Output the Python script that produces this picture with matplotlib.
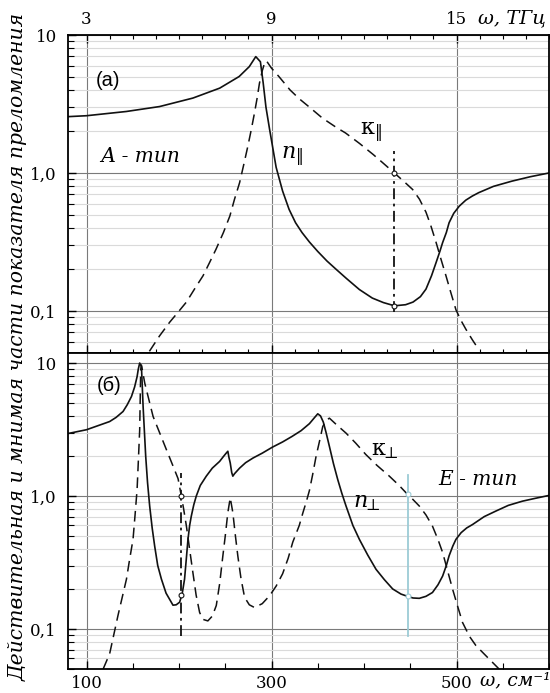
import numpy as np
import matplotlib.pyplot as plt
from matplotlib.ticker import FixedLocator, FixedFormatter, MultipleLocator, LogLocator, NullFormatter

plt.rcParams['font.family'] = ['DejaVu Serif']
plt.rcParams['mathtext.fontset'] = 'dejavuserif'

# ---- data (wavenumber in cm^-1) ----
# panel (а): A-type
wn_n_par = [80, 100, 143, 179, 215, 244, 265, 276, 283, 288, 291, 294, 298, 305, 312, 319,
            326, 333, 341, 350, 360, 370, 381, 395, 409, 421, 433, 445, 453, 461, 467, 473,
            478, 482, 485, 489, 492, 497, 503, 510, 517, 524, 540, 560, 580, 600]
n_par = [2.56, 2.60, 2.79, 3.03, 3.49, 4.12, 5.0, 5.9, 6.97, 6.4, 4.5, 3.0, 2.06, 1.1, 0.74, 0.545,
         0.436, 0.37, 0.316, 0.27, 0.23, 0.20, 0.172, 0.143, 0.124, 0.115, 0.109, 0.111, 0.116, 0.127, 0.144, 0.18,
         0.225, 0.27, 0.313, 0.37, 0.436, 0.51, 0.575, 0.635, 0.68, 0.72, 0.80, 0.873, 0.94, 1.0]

wn_k_par = [168, 179, 190, 199, 208, 217, 226, 233, 240, 248, 255, 260, 265.5, 270, 274.4, 278,
            281.6, 284.5, 287, 290, 292, 294.5, 300, 308, 320, 330, 341, 355, 370, 380, 395,
            410, 420, 432.8, 443, 452.5, 460, 467, 472, 477.8, 483, 488.6, 494, 499.4, 505,
            510, 517, 524.5]
k_par = [0.051, 0.066, 0.083, 0.098, 0.116, 0.145, 0.18, 0.224, 0.28, 0.37, 0.488, 0.645, 0.85, 1.15, 1.56, 2.04,
         2.72, 3.5, 4.48, 5.5, 6.1, 6.5, 5.75, 5.0, 4.0, 3.45, 3.0, 2.5, 2.14, 1.95, 1.64,
         1.36, 1.19, 1.0, 0.87, 0.76, 0.645, 0.52, 0.42, 0.316, 0.24, 0.18, 0.135, 0.102, 0.085,
         0.074, 0.062, 0.052]

# panel (б): E-type
wn_n_perp = [80, 100, 125, 132, 139.5, 144, 148.6, 152, 154.7, 156, 157.5, 159.4, 161.2, 164, 166,
             168.3, 171, 173.7, 177, 181, 186, 193.5, 197, 200.7, 203.5, 206, 207.8, 209.7, 211.5,
             213.3, 216, 218.7, 223, 229.5, 236, 243.9, 248, 251, 252.8, 254, 255.4, 257, 258.2,
             260, 265.5, 272, 280, 290, 301, 312, 322, 332, 341, 346, 350, 353, 356, 359, 362.6,
             367, 371.6, 376, 380.6, 388, 395, 404, 413, 422, 431, 440, 447, 453, 459.8, 467, 474,
             480, 485, 489, 492, 496, 499.4, 505, 511, 517.3, 530, 542.5, 556, 571.2, 585, 600]
n_perp = [2.95, 3.15, 3.63, 3.9, 4.32, 4.85, 5.6, 6.6, 7.9, 9.0, 10.0, 9.4, 4.7, 1.99, 1.26,
          0.84, 0.575, 0.42, 0.30, 0.237, 0.186, 0.151, 0.152, 0.159, 0.185, 0.237, 0.33, 0.472, 0.6,
          0.706, 0.86, 1.0, 1.2, 1.41, 1.62, 1.82, 1.98, 2.1, 2.17, 1.95, 1.77, 1.5, 1.41,
          1.47, 1.62, 1.78, 1.93, 2.1, 2.33, 2.55, 2.8, 3.1, 3.5, 3.85, 4.15, 4.0, 3.6, 3.0, 2.36,
          1.75, 1.33, 1.05, 0.84, 0.6, 0.472, 0.36, 0.281, 0.235, 0.20, 0.183, 0.176, 0.171, 0.17, 0.176, 0.188,
          0.215, 0.25, 0.30, 0.355, 0.42, 0.472, 0.53, 0.575, 0.61, 0.70, 0.77, 0.85, 0.914, 0.96, 1.01]

wn_k_perp = [118, 125, 134, 143.2, 146.5, 150.3, 152.5, 154.7, 156, 157.5, 158.6, 159.4, 163, 172,
             186.4, 194, 199, 202.5, 205, 208, 211, 215, 218.5, 222.3, 226, 231.2, 236, 240.3, 244,
             247.4, 250, 252.8, 255.4, 258.2, 261, 263.6, 267, 270.9, 276, 281.6, 290, 298, 305,
             312, 318, 323, 330, 334, 337.5, 341, 344.5, 348.2, 352, 355.4, 359, 362.6, 370, 380.6,
             391, 402, 414, 427.4, 438, 447, 453, 459.8, 467, 474, 480, 485, 490, 495.7, 501,
             506.5, 514, 521, 531.7, 546]
k_perp = [0.05, 0.065, 0.126, 0.237, 0.33, 0.472, 0.72, 1.12, 1.8, 3.15, 8.9, 9.66, 7.05, 3.96,
          2.23, 1.65, 1.35, 1.0, 0.8, 0.594, 0.42, 0.266, 0.18, 0.133, 0.118, 0.115, 0.125, 0.15, 0.22,
          0.354, 0.5, 0.75, 0.97, 0.75, 0.5, 0.354, 0.24, 0.173, 0.152, 0.145, 0.155, 0.178, 0.21,
          0.26, 0.34, 0.45, 0.6, 0.75, 0.9, 1.1, 1.45, 1.99, 2.6, 3.33, 3.7, 3.85, 3.45, 2.97,
          2.5, 2.05, 1.7, 1.41, 1.2, 1.03, 0.94, 0.84, 0.72, 0.594, 0.47, 0.376, 0.28, 0.20, 0.15,
          0.112, 0.088, 0.075, 0.063, 0.05]

# marker lines: (wavenumber, y top, y bottom, n value, kappa value)
mark_par = (432, 1.44, 0.098, 0.109, 1.0)
mark_perp_1 = (202.5, 1.49, 0.089, 0.18, 1.0)
mark_perp_2 = (448, 1.45, 0.089, 0.176, 1.03)

x_ticks = [100, 300, 500]
cm_labels = ["100", "300", "500"]
thz_labels = ["3", "9", "15"]
y_ticks = [0.1, 1.0, 10]
y_labels = ["0,1", "1,0", "10"]

W, H = 550, 693
fig = plt.figure(figsize=(W / 100, H / 100), dpi=100)
L, R = 68 / W, 549 / W
ax1 = fig.add_axes([L, 1 - 352.5 / H, R - L, (352.5 - 35) / H])
ax2 = fig.add_axes([L, 1 - 669 / H, R - L, (669 - 352.5) / H])

dash = (0, (7, 4))
dashdot = (0, (6, 2.5, 1.5, 2.5))
lc = '#111111'

for ax, ylim in ((ax1, (0.05, 10)), (ax2, (0.05, 12))):
    ax.set_yscale('log')
    ax.set_xlim(80, 600)
    ax.set_ylim(*ylim)
    ax.yaxis.set_major_locator(FixedLocator(y_ticks))
    ax.yaxis.set_major_formatter(FixedFormatter(y_labels))
    ax.yaxis.set_minor_locator(LogLocator(base=10, subs=np.arange(2, 10)))
    ax.yaxis.set_minor_formatter(NullFormatter())
    ax.xaxis.set_major_locator(FixedLocator(x_ticks))
    ax.grid(which='minor', axis='y', color='#dadada', lw=0.8)
    ax.grid(which='major', axis='both', color='#7a7a7a', lw=0.8)
    ax.set_axisbelow(True)
    for s in ax.spines.values():
        s.set_linewidth(1.3)
        s.set_color('black')
    ax.tick_params(axis='y', which='both', direction='in', labelsize=12, pad=8)
    ax.tick_params(axis='y', which='major', length=6, width=1)
    ax.tick_params(axis='y', which='minor', length=4, width=0.8)

# top panel: ticks on both x spines, labels on top in THz
ax1.xaxis.set_minor_locator(MultipleLocator(25))
ax1.xaxis.set_major_formatter(FixedFormatter(thz_labels))
ax1.tick_params(axis='x', which='both', direction='in', top=True, bottom=True,
                labeltop=True, labelbottom=False, labelsize=12, pad=5)
ax1.tick_params(axis='x', which='major', length=6, width=1)
ax1.tick_params(axis='x', which='minor', length=3, width=0.8)

ax2.xaxis.set_minor_locator(MultipleLocator(50))
ax2.xaxis.set_major_formatter(FixedFormatter(cm_labels))
ax2.tick_params(axis='x', which='both', direction='in', top=False, bottom=True,
                labelsize=12, pad=4)
ax2.tick_params(axis='x', which='major', length=6, width=1)
ax2.tick_params(axis='x', which='minor', length=4, width=0.8)

# curves
ax1.plot(wn_n_par, n_par, color=lc, lw=1.2)
ax1.plot(wn_k_par, k_par, color=lc, lw=1.1, ls=dash)
ax2.plot(wn_n_perp, n_perp, color=lc, lw=1.2)
ax2.plot(wn_k_perp, k_perp, color=lc, lw=1.1, ls=dash)

def marker_line(ax, m, color, ls):
    x, top, bot, nv, kv = m
    ax.plot([x, x], [bot, top], color=color, lw=1.3, ls=ls)
    ax.plot([x, x], [nv, kv], ls='none', marker='o', ms=3.5, mfc='white', mec=color, mew=0.8)

marker_line(ax1, mark_par, lc, dashdot)
marker_line(ax2, mark_perp_1, lc, dashdot)
marker_line(ax2, mark_perp_2, '#9ccbd6', '-')

# annotations
ax1.text(123, 4.7, "(а)", family='Liberation Sans', fontsize=14.5, ha='center', va='center')
ax1.text(158, 1.32, "А - тип", style='italic', fontsize=14.5, ha='center', va='center')
ax1.text(322, 1.33, r"$n_{\Vert}$", fontsize=16, ha='center', va='center')
ax1.text(408, 1.96, r"κ$_{\Vert}$", fontsize=16, ha='center', va='center')

ax2.text(124, 6.8, "(б)", family='Liberation Sans', fontsize=14.5, ha='center', va='center')
ax2.text(422, 2.23, r"κ$_{\!\!\bot}$", fontsize=16, ha='center', va='center')
ax2.text(403, 0.9, r"$n_{\!\!\bot}$", fontsize=16, ha='center', va='center')
ax2.text(523, 1.33, "E - тип", style='italic', fontsize=14.5, ha='center', va='center')

fig.text(478 / W, 1 - 18 / H, "ω, ТГц", style='italic', fontsize=14, ha='left', va='center')
fig.text(480 / W, 1 - 680 / H, "ω, см⁻¹", style='italic', fontsize=13.5, ha='left', va='center')
fig.text(18 / W, 0.5, "Действительная и мнимая части показателя преломления",
         style='italic', fontsize=14.7, rotation=90, ha='center', va='center')

fig.savefig("out.png", dpi=100)
